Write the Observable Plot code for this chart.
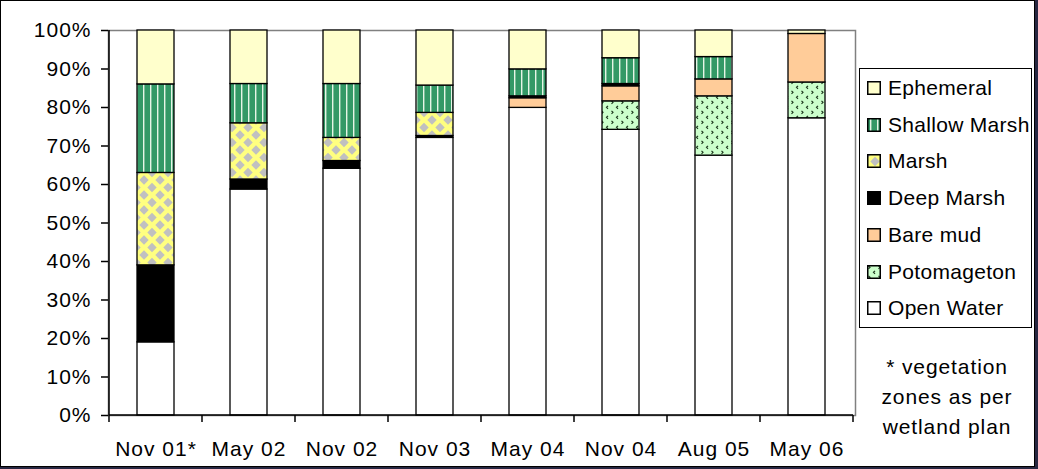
<!DOCTYPE html>
<html>
<head>
<meta charset="utf-8">
<script src="https://cdn.jsdelivr.net/npm/d3@7"></script>
<script src="https://cdn.jsdelivr.net/npm/@observablehq/plot@0.6"></script>
<style>
  html, body { margin: 0; padding: 0; }
  body { width: 1038px; height: 469px; background: #272741; position: relative; overflow: hidden;
         font-family: "Liberation Sans", Arial, sans-serif; }
  #card { position: absolute; left: 0; top: 0; width: 1035px; height: 467px; box-sizing: border-box;
          border: 1.5px solid #000; background: #fff; }
  #chart { position: absolute; left: 0; top: 0; }
  #chart text { letter-spacing: 1px; }
  #legend { position: absolute; left: 859px; top: 68px; width: 173px; height: 260px; box-sizing: border-box;
            border: 1.5px solid #000; background: #fff; }
  .item { position: absolute; left: 7px; height: 24px; display: flex; align-items: center; font-size: 21px; letter-spacing: 0.3px; color: #000; white-space: nowrap; }
  .item svg { margin-right: 7px; }
  #note { position: absolute; left: 860px; top: 352px; width: 174px; text-align: center; font-size: 21px; letter-spacing: 0.9px; line-height: 30px; color: #000; }
</style>
</head>
<body>
<svg width="0" height="0" style="position:absolute">
  <defs>
    <pattern id="pShallow" patternUnits="userSpaceOnUse" width="7" height="10">
      <rect width="7" height="10" fill="#339966"/>
      <rect x="3" width="1.4" height="10" fill="#e6f5e6"/>
    </pattern>
    <pattern id="pMarsh" patternUnits="userSpaceOnUse" width="16" height="15">
      <rect width="16" height="15" fill="#ffff80"/>
      <polygon points="8,2.8 12.7,7.5 8,12.2 3.3,7.5" fill="#c0c0c0"/>
      <polygon points="0,-4.7 4.7,0 0,4.7 -4.7,0" fill="#c0c0c0"/>
      <polygon points="16,-4.7 20.7,0 16,4.7 11.3,0" fill="#c0c0c0"/>
      <polygon points="0,10.3 4.7,15 0,19.7 -4.7,15" fill="#c0c0c0"/>
      <polygon points="16,10.3 20.7,15 16,19.7 11.3,15" fill="#c0c0c0"/>
    </pattern>
    <pattern id="pPotom" patternUnits="userSpaceOnUse" width="10" height="10">
      <rect width="10" height="10" fill="#ccffcc"/>
      <path d="M1.5,0.8 L3,2.3 L1.5,3.8" stroke="#1e3a1e" stroke-width="1.2" fill="none"/>
      <path d="M8,5.8 L6.5,7.3 L8,8.8" stroke="#1e3a1e" stroke-width="1.2" fill="none"/>
    </pattern>
  </defs>
</svg>
<div id="card"></div>
<div id="chart"></div>
<div id="legend"></div>
<div id="note">* vegetation<br>zones as per<br>wetland plan</div>
<script>
// ---- data (percent of area) ----
const categories   = ["Nov 01*", "May 02", "Nov 02", "Nov 03", "May 04", "Nov 04", "Aug 05", "May 06"];
const openWater    = [19.0, 58.7, 64.1, 72.1, 79.9, 74.2, 67.5, 77.2];
const potomageton  = [0, 0, 0, 0, 0, 7.4, 15.4, 9.3];
const bareMud      = [0, 0, 0, 0, 2.5, 3.9, 4.4, 12.6];
const deepMarsh    = [20.0, 2.6, 2.0, 0.5, 0.5, 0.6, 0, 0];
const marsh        = [24.0, 14.6, 6.0, 6.0, 0, 0, 0, 0];
const shallowMarsh = [23.0, 10.2, 14.0, 7.1, 7.0, 6.7, 5.8, 0];
const ephemeral    = [14.0, 13.9, 13.9, 14.3, 10.1, 7.2, 6.9, 0.9];
const yTicks = [0, 0.1, 0.2, 0.3, 0.4, 0.5, 0.6, 0.7, 0.8, 0.9, 1.0];

// stack order bottom -> top
const seriesNames  = ["Open Water", "Potomageton", "Bare mud", "Deep Marsh", "Marsh", "Shallow Marsh", "Ephemeral"];
const seriesValues = [openWater, potomageton, bareMud, deepMarsh, marsh, shallowMarsh, ephemeral];
const seriesFills  = ["#ffffff", "url(#pPotom)", "#ffcc99", "#000000", "url(#pMarsh)", "url(#pShallow)", "#ffffcc"];
const legendOrder  = ["Ephemeral", "Shallow Marsh", "Marsh", "Deep Marsh", "Bare mud", "Potomageton", "Open Water"];

const rows = [];
categories.forEach((c, i) => {
  seriesNames.forEach((s, j) => {
    const v = seriesValues[j][i];
    if (v > 0) rows.push({date: c, zone: s, value: v / 100});
  });
});

// band-boundary ticks and black axis lines, drawn from the plot's scales
function axisLines(index, scales, values, dims) {
  const x = scales.x, y = scales.y;
  const g = document.createElementNS("http://www.w3.org/2000/svg", "g");
  const step = x.step ? x.step() : (dims.width - dims.marginLeft - dims.marginRight) / categories.length;
  const bw = x.bandwidth ? x.bandwidth() : 0;
  const y0 = y(0), y1 = y(1);
  const left = x(categories[0]) + bw / 2 - step / 2;
  const mk = (xa, ya, xb, yb) => {
    const l = document.createElementNS("http://www.w3.org/2000/svg", "line");
    l.setAttribute("x1", xa); l.setAttribute("y1", ya); l.setAttribute("x2", xb); l.setAttribute("y2", yb);
    l.setAttribute("stroke", "#000"); l.setAttribute("stroke-width", 1.5);
    g.appendChild(l);
  };
  mk(left, y0, left, y1);
  mk(left, y0, left + step * categories.length, y0);
  for (let k = 0; k <= categories.length; k++) {
    const xx = left + k * step;
    mk(xx, y0, xx, y0 + 7);
  }
  return g;
}

const plot = Plot.plot({
  width: 870,
  height: 466,
  marginLeft: 108,
  marginRight: 15,
  marginTop: 30,
  marginBottom: 51,
  style: {fontFamily: "'Liberation Sans', Arial, sans-serif", fontSize: "21px", color: "#000", background: "transparent", overflow: "visible"},
  x: {domain: categories, paddingInner: 0.6, paddingOuter: 0.3, label: null},
  y: {domain: [0, 1], label: null},
  color: {type: "ordinal", domain: seriesNames, range: seriesFills},
  marks: [
    Plot.frame({stroke: "#808080", strokeWidth: 1.5}),
    Plot.barY(rows, Plot.stackY({
      x: "date", y: "value", fill: "zone", order: seriesNames,
      stroke: "#000", strokeWidth: 1.3
    })),
    Plot.axisY({ticks: yTicks, tickFormat: d3.format(".0%"), tickSize: 7, tickPadding: 10, stroke: "#000", strokeWidth: 1.5, fontSize: 21, label: null}),
    Plot.axisX({tickSize: 0, tickPadding: 26, fontSize: 21, label: null}),
    axisLines
  ]
});
document.getElementById("chart").appendChild(plot);

// legend
const legend = document.getElementById("legend");
legendOrder.forEach((name, i) => {
  const fill = seriesFills[seriesNames.indexOf(name)];
  const div = document.createElement("div");
  div.className = "item";
  div.style.top = (7 + i * 36.7) + "px";
  div.innerHTML = `<svg width="14" height="14"><rect x="0.75" y="0.75" width="12.5" height="12.5" fill="${fill}" stroke="#000" stroke-width="1.5"/></svg><span>${name}</span>`;
  legend.appendChild(div);
});
</script>
</body>
</html>
